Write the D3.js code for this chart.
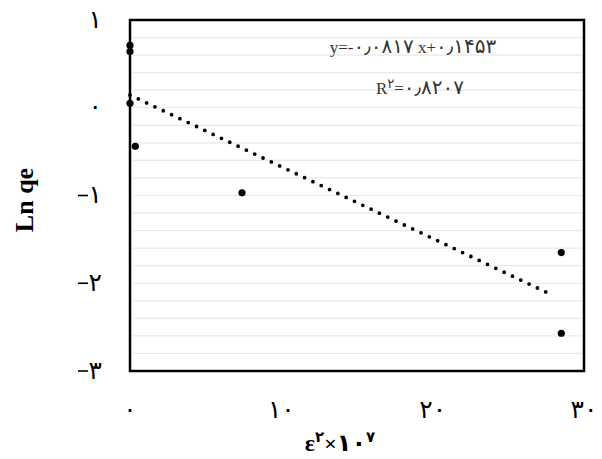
<!DOCTYPE html>
<html>
<head>
<meta charset="utf-8">
<script src="https://cdn.jsdelivr.net/npm/d3@7"></script>
<style>
  body { margin: 0; background: #fff; }
  text { font-family: "Liberation Serif", "DejaVu Sans", serif; }
</style>
</head>
<body>
<svg id="chart" width="602" height="459" viewBox="0 0 602 459"></svg>
<script>
// data
const xVals = [0, 0, 0, 0.35, 7.4, 28.5, 28.5];
const yVals = [0.71, 0.64, 0.05, -0.44, -0.97, -1.65, -2.57];
const slope = -0.0817, intercept = 0.1453;
const trendRange = [0, 28];
const yTicks = [1, 0, -1, -2, -3];
const yTickLabels = ["۱", "۰", "۱", "۲", "۳"];
const xTicks = [0, 10, 20, 30];
const xTickLabels = ["۰", "۱۰", "۲۰", "۳۰"];
const eqLine1 = "y=-۰٫۰۸۱۷ x+۰٫۱۴۵۳";
const eqLine2 = "=۰٫۸۲۰۷";

const svg = d3.select("#chart");
const plotLeft = 130, plotRight = 584, plotTop = 20, plotBottom = 371;

const x = d3.scaleLinear().domain([0, 30]).range([plotLeft, plotRight]);
const y = d3.scaleLinear().domain([-3, 1]).range([plotBottom, plotTop]);

// split a string into runs of persian digits / other characters,
// the digits come from a fallback font and need a bigger size
function addRuns(sel, str, latinSize, digitSize) {
    const runs = str.match(/[۰-۹٫]+|[^۰-۹٫]+/g);
    runs.forEach(r => {
        sel.append("tspan")
            .attr("font-size", /[۰-۹٫]/.test(r) ? digitSize : latinSize)
            .text(r);
    });
}

// light minor gridlines every 0.2
const grid = d3.range(-2.8, 1, 0.2).map(v => +v.toFixed(1));
svg.append("g").selectAll("line")
    .data(grid)
    .enter()
    .append("line")
    .attr("x1", plotLeft + 3)
    .attr("x2", plotRight)
    .attr("y1", d => y(d))
    .attr("y2", d => y(d))
    .attr("stroke", "#e8e8e8")
    .attr("stroke-width", 1.2);

// plot frame
svg.append("rect")
    .attr("x", plotLeft).attr("y", plotTop)
    .attr("width", plotRight - plotLeft).attr("height", plotBottom - plotTop)
    .attr("fill", "none")
    .attr("stroke", "#000")
    .attr("stroke-width", 2.5);

// trendline
svg.append("line")
    .attr("x1", x(trendRange[0]))
    .attr("y1", y(slope * trendRange[0] + intercept))
    .attr("x2", x(trendRange[1]))
    .attr("y2", y(slope * trendRange[1] + intercept))
    .attr("stroke", "#000")
    .attr("stroke-width", 3.8)
    .attr("stroke-linecap", "round")
    .attr("stroke-dasharray", "0 9.2");

// points
svg.append("g").selectAll("circle")
    .data(xVals.map((d, i) => [d, yVals[i]]))
    .enter()
    .append("circle")
    .attr("cx", d => x(d[0]))
    .attr("cy", d => y(d[1]))
    .attr("r", 3.6)
    .attr("fill", "#000");

// y tick labels
const yt = svg.append("g").selectAll("g")
    .data(yTicks)
    .enter()
    .append("g")
    .attr("transform", d => `translate(0,${y(d)})`);
yt.append("text")
    .attr("x", 102)
    .attr("dy", "0.3em")
    .attr("text-anchor", "end")
    .attr("font-size", 25)
    .text((d, i) => yTickLabels[i]);
yt.filter(d => d < 0)
    .append("line")
    .attr("x1", 78).attr("x2", 88)
    .attr("stroke", "#000")
    .attr("stroke-width", 1.6);

// x tick labels
svg.append("g").selectAll("text")
    .data(xTicks)
    .enter()
    .append("text")
    .attr("x", d => x(d))
    .attr("y", 410)
    .attr("dy", "0.3em")
    .attr("text-anchor", "middle")
    .attr("font-size", 25)
    .text((d, i) => xTickLabels[i]);

// axis titles
svg.append("text")
    .attr("transform", "translate(33,200) rotate(-90)")
    .attr("text-anchor", "middle")
    .attr("font-size", 26)
    .attr("font-weight", "bold")
    .text("Ln qe");

const xt = svg.append("text")
    .attr("x", 340)
    .attr("y", 451)
    .attr("text-anchor", "middle")
    .attr("font-weight", "bold");
xt.append("tspan").attr("font-size", 24).text("ε");
xt.append("tspan").attr("font-size", 15).attr("dy", -9).text("۲");
xt.append("tspan").attr("font-size", 22).attr("dy", 9).text("×");
xt.append("tspan").attr("font-size", 24).text("۱۰");
xt.append("tspan").attr("font-size", 15).attr("dy", -9).text("۷");

// equation
const eq1 = svg.append("text")
    .attr("x", 413).attr("y", 53)
    .attr("text-anchor", "middle")
    .attr("fill", "#333");
addRuns(eq1, eqLine1, 17, 20);

const r2 = svg.append("text")
    .attr("x", 420).attr("y", 94)
    .attr("text-anchor", "middle")
    .attr("fill", "#333");
r2.append("tspan").attr("font-size", 17).text("R");
r2.append("tspan").attr("font-size", 13).attr("dy", -6).text("۲");
r2.append("tspan").attr("font-size", 17).attr("dy", 6).text("=");
r2.append("tspan").attr("font-size", 20).text(eqLine2.slice(1));
</script>
</body>
</html>
